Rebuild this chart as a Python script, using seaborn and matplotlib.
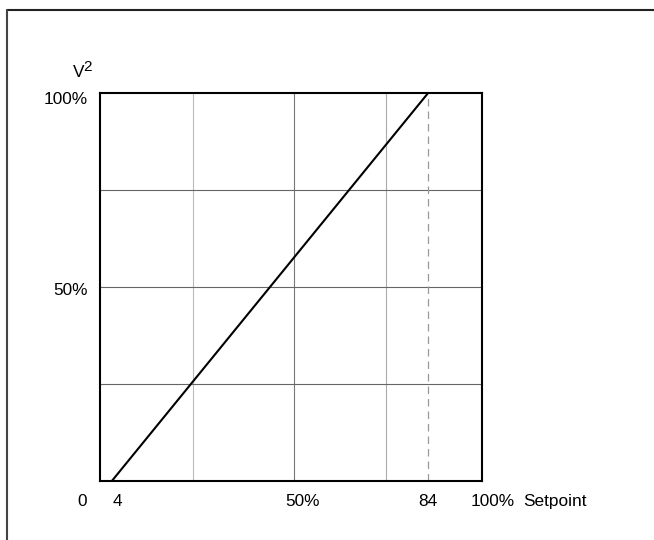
import matplotlib
matplotlib.use('Agg')
import matplotlib.pyplot as plt
import seaborn as sns
import pandas as pd
from matplotlib.lines import Line2D

# curve: setpoint (%) vs V^2 (%)
setpoint = [3.1, 85.9]
v_squared = [0, 100]

grid_x = [24.3, 50.8, 74.9]
grid_x_colors = ['#bbbbbb', '#777777', '#aaaaaa']
grid_y = [25, 50, 75]
dashed_x = 85.9

x_labels = ['0', '4', '50%', '84', '100%']
x_label_pos = [-4.7, 4.5, 53.0, 85.9, 102.8]
y_labels = ['100%', '50%']
y_label_pos = [98.2, 49.2]

sns.set_style('white')
plt.rcParams['font.family'] = ['Liberation Sans', 'DejaVu Sans']
plt.rcParams['text.color'] = 'black'

fig = plt.figure(figsize=(6.54, 5.4), dpi=100)
ax = fig.add_axes([100 / 654, 1 - 481 / 540, 382 / 654, 388 / 540])

for gx, c in zip(grid_x, grid_x_colors):
    ax.axvline(gx, color=c, lw=0.8, zorder=1)
for gy in grid_y:
    ax.axhline(gy, color='#666666', lw=0.8, zorder=1)
ax.axvline(dashed_x, color='#999999', lw=0.9, ls=(0, (6, 4)), zorder=1)

df = pd.DataFrame({'setpoint': setpoint, 'v2': v_squared})
sns.lineplot(data=df, x='setpoint', y='v2', color='black', lw=1.5, ax=ax, zorder=3)

ax.set_xlim(0, 100)
ax.set_ylim(0, 100)
ax.set_xticks([])
ax.set_yticks([])
ax.set_xlabel('')
ax.set_ylabel('')
for s in ax.spines.values():
    s.set_color('black')
    s.set_linewidth(1.5)

fs = 12.4
for lab, pos in zip(x_labels, x_label_pos):
    ax.text(pos, -5.4, lab, ha='center', va='center', fontsize=fs, clip_on=False)
ax.text(110.7, -5.4, 'Setpoint', ha='left', va='center', fontsize=fs, clip_on=False)
for lab, pos in zip(y_labels, y_label_pos):
    ax.text(-3.2, pos, lab, ha='right', va='center', fontsize=fs, clip_on=False)
ax.text(-4.2, 105.2, 'V', ha='right', va='center', fontsize=fs, clip_on=False)
ax.text(-4.3, 106.8, '2', ha='left', va='center', fontsize=11, clip_on=False)

# outer frame (top and left edges)
fig.add_artist(Line2D([7 / 654, 1], [1 - 10 / 540, 1 - 10 / 540], color='#222222', lw=1.5))
fig.add_artist(Line2D([7 / 654, 7 / 654], [0, 1 - 10 / 540], color='#444444', lw=1.5))

fig.savefig('out.png', dpi=100)
